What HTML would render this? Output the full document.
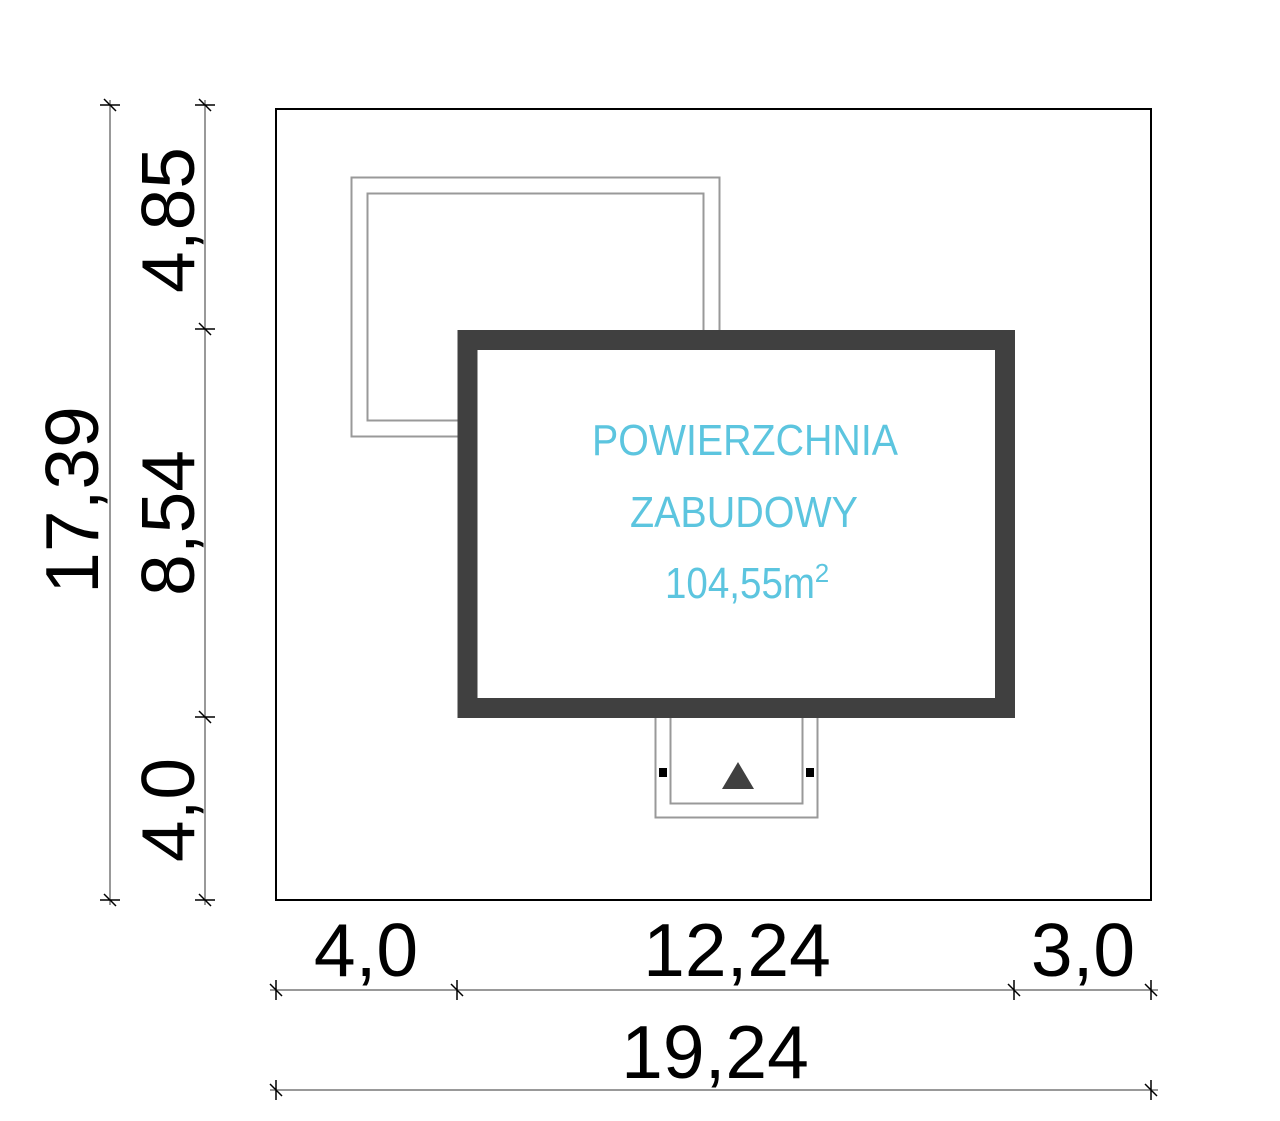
<!DOCTYPE html>
<html><head><meta charset="utf-8"><style>html,body{margin:0;padding:0;background:#fff}svg{display:block}</style></head>
<body>
<svg width="1280" height="1121" viewBox="0 0 1280 1121" xmlns="http://www.w3.org/2000/svg" font-family="Liberation Sans, sans-serif">
<rect width="1280" height="1121" fill="#fff"/>
<!-- plot -->
<rect x="276" y="109" width="875" height="791" fill="none" stroke="#000" stroke-width="2"/>
<!-- terrace -->
<rect x="351.5" y="177.5" width="368" height="259" fill="none" stroke="#999" stroke-width="2"/>
<rect x="367.5" y="193.5" width="336" height="227" fill="none" stroke="#999" stroke-width="2"/>
<!-- porch -->
<rect x="655.5" y="705" width="162" height="112.5" fill="#fff" stroke="#999" stroke-width="2"/>
<rect x="670.5" y="705" width="132" height="98.5" fill="#fff" stroke="#999" stroke-width="2"/>
<rect x="659" y="768" width="8" height="9" fill="#000"/>
<rect x="806" y="768" width="8" height="9" fill="#000"/>
<polygon points="738,762 754,789 722,789" fill="#404040"/>
<!-- building -->
<rect x="467.5" y="340" width="537.5" height="368" fill="#fff" stroke="#404040" stroke-width="20"/>
<!-- label -->
<g fill="#5cc5df" font-size="44" text-anchor="middle">
<text x="745" y="455" textLength="306" lengthAdjust="spacingAndGlyphs">POWIERZCHNIA</text>
<text x="744" y="527" textLength="228" lengthAdjust="spacingAndGlyphs">ZABUDOWY</text>
<text x="740" y="598" textLength="150" lengthAdjust="spacingAndGlyphs">104,55m</text>
<text x="822" y="582" font-size="26">2</text>
</g>
<!-- dim lines -->
<g stroke="#999" stroke-width="2">
<line x1="110" y1="100" x2="110" y2="905"/>
<line x1="205" y1="100" x2="205" y2="905"/>
<line x1="270" y1="990" x2="1158" y2="990"/>
<line x1="270" y1="1090" x2="1158" y2="1090"/>
</g>
<g stroke="#000" stroke-width="1.5">
<path d="M100 105h20M104 99l12 12M195 105h20M199 99l12 12M195 329h20M199 323l12 12M195 717h20M199 711l12 12M100 900h20M104 894l12 12M195 900h20M199 894l12 12"/>
<path d="M276 980v20M270 984l12 12M457 980v20M451 984l12 12M1014 980v20M1008 984l12 12M1151 980v20M1145 984l12 12"/>
<path d="M276 1080v20M270 1084l12 12M1151 1080v20M1145 1084l12 12"/>
</g>
<g fill="#000" font-size="75" text-anchor="middle">
<text transform="translate(98,500) rotate(-90)">17,39</text>
<text transform="translate(194,220) rotate(-90)">4,85</text>
<text transform="translate(194,523) rotate(-90)">8,54</text>
<text transform="translate(194,810) rotate(-90)">4,0</text>
<text x="366" y="976">4,0</text>
<text x="737" y="976">12,24</text>
<text x="1083" y="976">3,0</text>
<text x="715" y="1078">19,24</text>
</g>
</svg>
</body></html>
